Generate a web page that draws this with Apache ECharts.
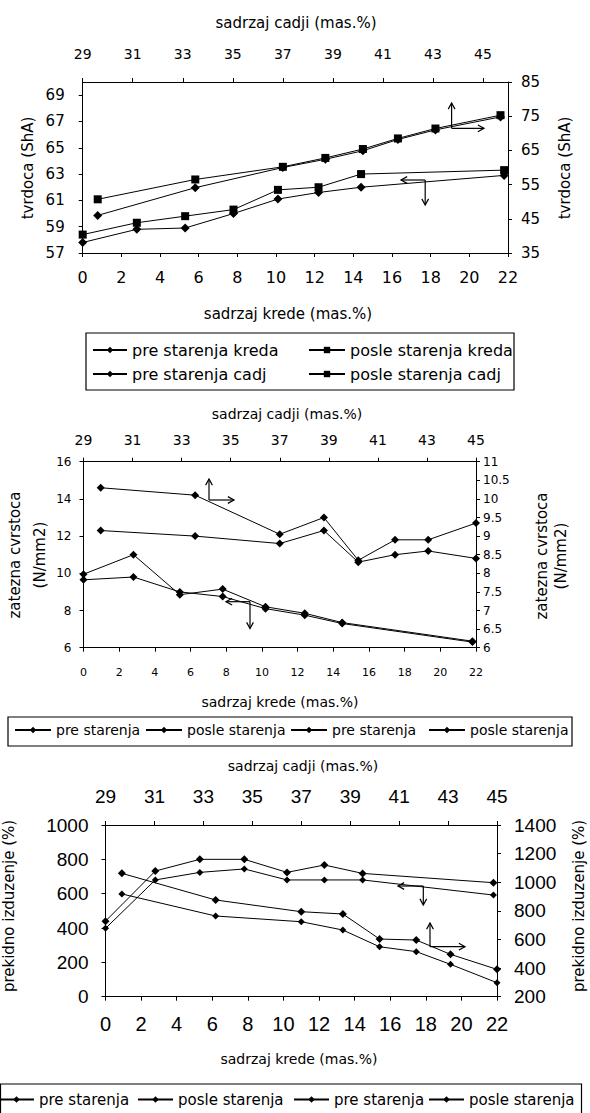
<!DOCTYPE html>
<html><head><meta charset="utf-8">
<script src="https://cdn.jsdelivr.net/npm/echarts@6/dist/echarts.min.js"></script>
<style>html,body{margin:0;padding:0;background:#fff}#c{width:590px;height:1113px}</style>
</head><body><div id="c"></div><script>
// ---------- DATA ----------
// tick labels
const kredeTicks = [0,2,4,6,8,10,12,14,16,18,20,22];
const cadjiTicks = [29,31,33,35,37,39,41,43,45];
const p1LeftTicks = [57,59,61,63,65,67,69];
const p1RightTicks = [35,45,55,65,75,85];
const p2LeftTicks = [6,8,10,12,14,16];
const p2RightTicks = [6,6.5,7,7.5,8,8.5,9,9.5,10,10.5,11];
const p3LeftTicks = [0,200,400,600,800,1000];
const p3RightTicks = [200,400,600,800,1000,1200,1400];

// panel 1 : tvrdoca (ShA)
const p1KredaX = [0, 2.8, 5.3, 7.8, 10.1, 12.2, 14.4, 21.8];
const p1PreKreda = [57.8, 58.8, 58.9, 60.0, 61.1, 61.6, 62.0, 62.9];
const p1PosleKreda = [58.4, 59.3, 59.8, 60.3, 61.8, 62.0, 63.0, 63.3];
const p1CadjX = [29.6, 33.5, 37.0, 38.7, 40.2, 41.6, 43.1, 45.7];
const p1PreCadj = [46.0, 54.1, 60.0, 62.4, 64.9, 68.2, 71.0, 74.8];
const p1PosleCadj = [50.7, 56.5, 60.2, 62.8, 65.4, 68.5, 71.4, 75.3];

// panel 2 : zatezna cvrstoca (N/mm2)
const p2KredaX = [0, 2.8, 5.4, 7.8, 10.2, 12.4, 14.5, 21.8];
const p2PreKreda = [9.95, 11.0, 8.85, 9.15, 8.2, 7.85, 7.35, 6.35];
const p2PosleKreda = [9.65, 9.8, 9.0, 8.75, 8.1, 7.75, 7.3, 6.3];
const p2CadjX = [29.7, 33.55, 37.0, 38.8, 40.2, 41.7, 43.05, 45];
const p2PreCadj = [10.3, 10.1, 9.05, 9.5, 8.35, 8.9, 8.9, 9.35];
const p2PosleCadj = [9.15, 9.0, 8.8, 9.15, 8.3, 8.5, 8.6, 8.4];

// panel 3 : prekidno izduzenje (%)
const p3KredaX = [0, 2.8, 5.3, 7.8, 10.2, 12.3, 14.45, 21.8];
const p3PreKreda = [440, 732, 800, 800, 724, 767, 718, 664];
const p3PosleKreda = [398, 680, 724, 744, 680, 680, 680, 592];
const p3CadjX = [29.67, 33.5, 37.0, 38.7, 40.2, 41.7, 43.1, 45];
const p3PreCadj = [1062, 876, 794, 778, 603, 596, 496, 391];
const p3PosleCadj = [918, 764, 724, 666, 549, 515, 426, 298];

// ---------- BUILD ----------
const FONT = 'DejaVu Sans';
const NUMF = 'Liberation Sans';
const BLACK = '#000';
const pairs = (xs, ys) => xs.map((x, i) => [x, ys[i]]);

function axis(gridIndex, position, min, max, ticks, fs, margin, family) {
  return {
    type: 'value', gridIndex, position, min, max,
    axisLine: { show: true, lineStyle: { color: BLACK, width: 1 } },
    axisTick: { show: true, inside: false, length: 4, customValues: ticks, lineStyle: { color: BLACK } },
    axisLabel: { show: true, customValues: ticks, fontSize: fs, margin, color: BLACK,
      fontFamily: family || FONT, formatter: v => String(v) },
    splitLine: { show: false }
  };
}

const xAxis = [
  axis(0, 'bottom', 0, 22, kredeTicks, 16, 16),
  axis(0, 'top', 29, 46, cadjiTicks, 14, 21),
  axis(1, 'bottom', 0, 22, kredeTicks, 11, 19),
  axis(1, 'top', 29, 45, cadjiTicks, 14, 15),
  axis(2, 'bottom', 0, 22, kredeTicks, 20, 17, NUMF),
  axis(2, 'top', 29, 45, cadjiTicks, 19, 19, NUMF)
];
const yAxis = [
  axis(0, 'left', 57, 70, p1LeftTicks, 15, 18),
  axis(0, 'right', 35, 85, p1RightTicks, 15, 13),
  axis(1, 'left', 6, 16, p2LeftTicks, 12, 12),
  axis(1, 'right', 6, 11, p2RightTicks, 12, 7),
  axis(2, 'left', 0, 1000, p3LeftTicks, 19, 17, NUMF),
  axis(2, 'right', 200, 1400, p3RightTicks, 19, 17, NUMF)
];

function line(name, xi, yi, xs, ys, symbol, size) {
  return {
    type: 'line', name, xAxisIndex: xi, yAxisIndex: yi, data: pairs(xs, ys),
    symbol, symbolSize: size, showSymbol: true,
    lineStyle: { color: BLACK, width: 1 }, itemStyle: { color: BLACK },
    emphasis: { disabled: true }, z: 3
  };
}

const series = [
  line('p1 pre kreda', 0, 0, p1KredaX, p1PreKreda, 'diamond', 9),
  line('p1 posle kreda', 0, 0, p1KredaX, p1PosleKreda, 'rect', 8),
  line('p1 pre cadj', 1, 1, p1CadjX, p1PreCadj, 'diamond', 9),
  line('p1 posle cadj', 1, 1, p1CadjX, p1PosleCadj, 'rect', 8),
  line('p2 pre kreda', 2, 2, p2KredaX, p2PreKreda, 'diamond', 8),
  line('p2 posle kreda', 2, 2, p2KredaX, p2PosleKreda, 'diamond', 8),
  line('p2 pre cadj', 3, 3, p2CadjX, p2PreCadj, 'diamond', 8),
  line('p2 posle cadj', 3, 3, p2CadjX, p2PosleCadj, 'diamond', 8),
  line('p3 pre kreda', 4, 4, p3KredaX, p3PreKreda, 'diamond', 8),
  line('p3 posle kreda', 4, 4, p3KredaX, p3PosleKreda, 'diamond', 7),
  line('p3 pre cadj', 5, 5, p3CadjX, p3PreCadj, 'diamond', 8),
  line('p3 posle cadj', 5, 5, p3CadjX, p3PosleCadj, 'diamond', 7)
];

const legendText = {
  'p1 pre kreda': 'pre starenja kreda', 'p1 posle kreda': 'posle starenja kreda',
  'p1 pre cadj': 'pre starenja cadj', 'p1 posle cadj': 'posle starenja cadj',
  'p2 pre kreda': 'pre starenja', 'p2 posle kreda': 'posle starenja',
  'p2 pre cadj': 'pre starenja', 'p2 posle cadj': 'posle starenja',
  'p3 pre kreda': 'pre starenja', 'p3 posle kreda': 'posle starenja',
  'p3 pre cadj': 'pre starenja', 'p3 posle cadj': 'posle starenja'
};
function leg(name, left, top, fs, w) {
  return {
    data: [name], left, top, orient: 'horizontal', padding: 0, itemGap: 0,
    itemWidth: w, itemHeight: 8, selectedMode: false,
    formatter: n => legendText[n],
    textStyle: { fontSize: fs, color: BLACK, fontFamily: FONT }
  };
}
const legend = [
  leg('p1 pre kreda', 92, 342, 16, 34), leg('p1 posle kreda', 308, 342, 16, 36),
  leg('p1 pre cadj', 92, 366, 16, 34), leg('p1 posle cadj', 308, 366, 16, 36),
  leg('p2 pre kreda', 14, 723, 14, 36), leg('p2 posle kreda', 145, 723, 14, 36),
  leg('p2 pre cadj', 290, 723, 14, 36), leg('p2 posle cadj', 428, 723, 14, 36),
  leg('p3 pre kreda', -2, 1092, 15, 35), leg('p3 posle kreda', 137, 1092, 15, 35),
  leg('p3 pre cadj', 293, 1092, 15, 35), leg('p3 posle cadj', 428, 1092, 15, 35)
];

function txt(text, x, y, fs, rot) {
  return { type: 'text', x, y, rotation: rot ? Math.PI / 2 : 0, silent: true,
    style: { text, fill: BLACK, font: fs + 'px "' + FONT + '"', align: 'center', verticalAlign: 'middle' } };
}
function box(x, y, w, h) {
  return { type: 'rect', shape: { x, y, width: w, height: h }, silent: true,
    style: { fill: 'none', stroke: BLACK, lineWidth: 1.2 } };
}
function arrow(x0, y0, x1, y1) {
  const a = Math.atan2(y1 - y0, x1 - x0), L = 7, s = 0.5;
  return [
    { type: 'line', silent: true, shape: { x1: x0, y1: y0, x2: x1, y2: y1 }, style: { stroke: BLACK, lineWidth: 1.2 } },
    { type: 'polyline', silent: true, shape: { points: [
      [x1 - L * Math.cos(a - s), y1 - L * Math.sin(a - s)], [x1, y1],
      [x1 - L * Math.cos(a + s), y1 - L * Math.sin(a + s)]] }, style: { stroke: BLACK, fill: 'none', lineWidth: 1.2 } }
  ];
}

const graphic = [].concat(
  // panel 1
  txt('sadrzaj cadji (mas.%)', 296, 23, 15),
  txt('sadrzaj krede (mas.%)', 288, 314, 15),
  txt('tvrdoca (ShA)', 28, 168, 15, true),
  txt('tvrdoca (ShA)', 565, 168, 15, true),
  box(86, 333, 428, 57),
  arrow(451.6, 128.3, 451.6, 103), arrow(451.6, 128.3, 484, 128.3),
  arrow(425.2, 180, 401, 180), arrow(425.2, 180, 425.2, 205),
  // panel 2
  txt('sadrzaj cadji (mas.%)', 287, 414, 14),
  txt('sadrzaj krede (mas.%)', 280, 702, 14),
  txt('zatezna cvrstoca', 15, 555, 15, true),
  txt('(N/mm2)', 40, 555, 15, true),
  txt('zatezna cvrstoca', 542, 556, 15, true),
  txt('(N/mm2)', 561, 556, 15, true),
  box(8, 717, 564, 29),
  arrow(209, 500, 209, 479), arrow(209, 500, 234, 500),
  arrow(250, 601.7, 226, 601.7), arrow(250, 601.7, 250, 628.5),
  // panel 3
  txt('sadrzaj cadji (mas.%)', 303, 766, 14),
  txt('sadrzaj krede (mas.%)', 299, 1059, 14),
  txt('prekidno izduzenje (%)', 9, 906, 15, true),
  txt('prekidno izduzenje (%)', 579, 906, 15, true),
  box(0.5, 1084, 581, 40),
  arrow(423.3, 886, 398, 886), arrow(423.3, 886, 423.3, 905),
  arrow(430, 946.7, 430, 923), arrow(430, 946.7, 465, 946.7)
);

const chart = echarts.init(document.getElementById('c'), null, { renderer: 'svg', width: 590, height: 1113 });
chart.setOption({
  animation: false,
  backgroundColor: '#fff',
  textStyle: { fontFamily: FONT, color: BLACK },
  grid: [
    { left: 82.7, top: 82, width: 425.3, height: 171 },
    { left: 83.5, top: 461.7, width: 392.5, height: 186 },
    { left: 105.5, top: 825, width: 391.5, height: 171.7 }
  ],
  xAxis, yAxis, series, legend, graphic
});
</script></body></html>
